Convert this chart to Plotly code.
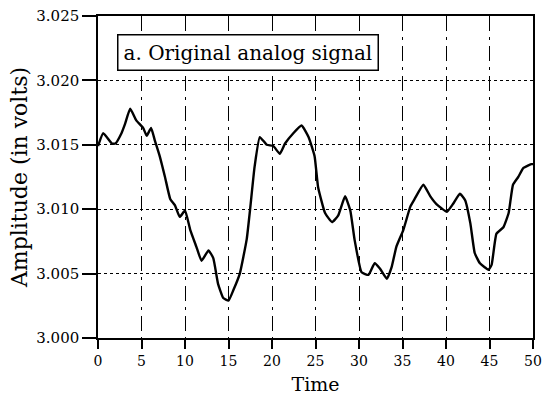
import plotly.graph_objects as go

time = [0, 0.6, 1.6, 2.0, 2.7, 3.1, 3.7, 4.4, 5.2, 5.6, 6.1, 6.55, 7.1, 7.7, 8.3, 8.85, 9.4, 10.0,
        10.6, 11.3, 11.9, 12.7, 13.25, 13.8, 14.4, 15.0, 15.55, 16.3, 17.1, 17.5, 18.0, 18.6,
        19.4, 20.15, 20.9, 21.5, 22.45, 23.4, 24.2, 24.9, 25.3, 26.1, 26.9, 27.6, 28.4, 29.0,
        29.5, 30.3, 31.1, 31.8, 32.4, 33.2, 33.75, 34.3, 35.1, 35.9, 36.4, 37.4, 38.2, 38.9,
        40.1, 40.8, 41.6, 42.2, 42.8, 43.3, 43.9, 44.9, 45.25, 45.8, 46.6, 47.2, 47.7, 48.3,
        48.9, 49.8, 50.0]
amplitude = [3.0149, 3.0159, 3.0151, 3.0151, 3.0159, 3.0166, 3.0178, 3.0169, 3.0163, 3.0157,
             3.0163, 3.0153, 3.0141, 3.0125, 3.0108, 3.0103, 3.0094, 3.0099, 3.0084, 3.0071,
             3.0060, 3.0068, 3.0062, 3.0042, 3.0031, 3.0029, 3.0037, 3.0050, 3.0077, 3.0101,
             3.0133, 3.0156, 3.0150, 3.0149, 3.0143, 3.0151, 3.0159, 3.0165, 3.0156, 3.0141,
             3.0117, 3.0097, 3.0090, 3.0095, 3.0110, 3.0099, 3.0076, 3.0051, 3.0049, 3.0058,
             3.0054, 3.0046, 3.0055, 3.0071, 3.0084, 3.0102, 3.0108, 3.0119, 3.0110, 3.0104,
             3.0098, 3.0104, 3.0112, 3.0107, 3.0089, 3.0066, 3.0058, 3.0053, 3.0057, 3.0081,
             3.0086, 3.0097, 3.0119, 3.0125, 3.0132, 3.0135, 3.0135]

x_ticks = [0, 5, 10, 15, 20, 25, 30, 35, 40, 45, 50]
y_ticks = [3.000, 3.005, 3.010, 3.015, 3.020, 3.025]
title_text = "a. Original analog signal"

fig = go.Figure()
fig.add_trace(go.Scatter(x=time, y=amplitude, mode="lines",
                         line=dict(color="black", width=2.4, shape="spline", smoothing=0.4),
                         showlegend=False))

font = "DejaVu Serif, Liberation Serif, serif"
fig.update_layout(
    width=544, height=396,
    margin=dict(l=98, r=11, t=16, b=58),
    paper_bgcolor="white", plot_bgcolor="white",
    font=dict(family=font, color="black", size=14),
    xaxis=dict(range=[0, 50], tickvals=x_ticks, ticks="outside", ticklen=9, tickwidth=1.5,
               tickcolor="black", showline=True, linecolor="black", linewidth=1.5, mirror=True,
               showgrid=True, gridcolor="black", gridwidth=1.2, griddash="longdashdot",
               zeroline=False, automargin=False, ticklabeloverflow="allow",
               title=dict(text="Time", font=dict(size=19), standoff=10),
               tickfont=dict(size=14)),
    yaxis=dict(range=[3.000, 3.025], tickvals=y_ticks, tickformat=".3f", ticks="outside",
               ticklen=14, tickwidth=1.5, tickcolor="black", showline=True, linecolor="black",
               linewidth=1.5, mirror=True, showgrid=True, gridcolor="black", gridwidth=1.2,
               griddash="dot", zeroline=False, automargin=False, ticklabeloverflow="allow",
               title=dict(text="Amplitude (in volts)", font=dict(size=22), standoff=3),
               tickfont=dict(size=15)),
    annotations=[dict(text=title_text, xref="paper", yref="paper", x=0.044, y=0.944,
                      xanchor="left", yanchor="top", showarrow=False,
                      font=dict(family=font, size=20, color="black"),
                      bordercolor="black", borderwidth=1.5, borderpad=5, bgcolor="white")],
)

fig.write_html("out.html", config={"displayModeBar": False},
               post_script="document.body.style.margin='0';document.body.style.overflow='hidden';")
